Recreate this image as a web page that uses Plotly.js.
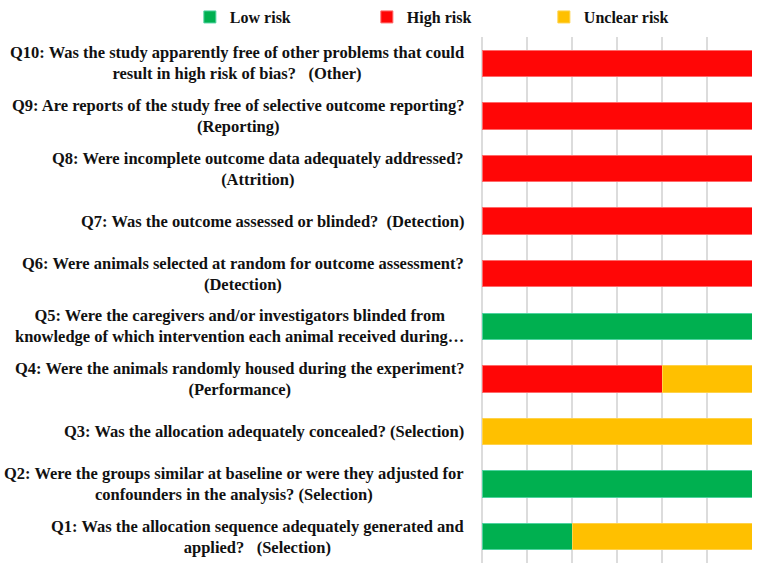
<!DOCTYPE html>
<html>
<head>
<meta charset="utf-8">
<script src="https://cdn.plot.ly/plotly-3.0.1.min.js"></script>
<style>html,body{margin:0;padding:0;background:#fff;}#chart{width:760px;height:572px;}</style>
</head>
<body>
<div id="chart"></div>
<script>
var questions = ["Q1","Q2","Q3","Q4","Q5","Q6","Q7","Q8","Q9","Q10"];
var labels = [
  "Q1: Was the allocation sequence adequately generated and<br>applied?\u00a0\u00a0\u00a0(Selection)",
  "Q2: Were the groups similar at baseline or were they adjusted for<br>confounders in the analysis? (Selection)",
  "Q3: Was the allocation adequately concealed? (Selection)",
  "Q4: Were the animals randomly housed during the experiment?<br>(Performance)",
  "Q5: Were the caregivers and/or investigators blinded from<br>knowledge of which intervention each animal received during\u2026",
  "Q6: Were animals selected at random for outcome assessment?<br>(Detection)",
  "Q7: Was the outcome assessed or blinded?\u00a0\u00a0(Detection)",
  "Q8: Were incomplete outcome data adequately addressed?<br>(Attrition)",
  "Q9: Are reports of the study free of selective outcome reporting?<br>(Reporting)",
  "Q10: Was the study apparently free of other problems that could<br>result in high risk of bias?\u00a0\u00a0\u00a0(Other)"
];
var lowRisk     = [2, 6, 0, 0, 6, 0, 0, 0, 0, 0];
var highRisk    = [0, 0, 0, 4, 0, 6, 6, 6, 6, 6];
var unclearRisk = [4, 0, 6, 2, 0, 0, 0, 0, 0, 0];
var seriesNames = ["Low risk", "High risk", "Unclear risk"];

var font = "'Liberation Serif', 'Times New Roman', serif";
function bar(name, vals, color, edge) {
  return {type: "bar", orientation: "h", name: name, x: vals, y: questions,
    marker: {color: color, line: {color: edge, width: 1}}, hoverinfo: "x+y+name"};
}
var data = [
  bar(seriesNames[0], lowRisk, "#00B050", "#4fd3a0"),
  bar(seriesNames[1], highRisk, "#FF0606", "#ff6a6a"),
  bar(seriesNames[2], unclearRisk, "#FFC000", "#ffd24a")
];
var annotations = questions.map(function(q, i) {
  return {xref: "paper", yref: "y", x: 0, y: q, text: labels[i], showarrow: false,
    xanchor: "right", yanchor: "middle", align: "center", xshift: -16,
    font: {family: font, size: 16.5, color: "#111", weight: "bold"}};
});
var layout = {
  width: 760, height: 572,
  margin: {l: 482, r: 8, t: 37, b: 9, autoexpand: false},
  paper_bgcolor: "#fff", plot_bgcolor: "#fff",
  barmode: "stack", bargap: 0.5,
  showlegend: true,
  legend: {orientation: "h", x: -1.082, xanchor: "left", y: 1.0703, yanchor: "top",
    font: {family: font, size: 16, color: "#111", weight: "bold"},
    entrywidth: 132, entrywidthmode: "pixels", itemwidth: 30, traceorder: "normal"},
  xaxis: {range: [0, 6], dtick: 1, showgrid: true, gridcolor: "#dcdcdc", gridwidth: 1.5,
    zeroline: true, zerolinecolor: "#dcdcdc", zerolinewidth: 1.5, showticklabels: false, fixedrange: true},
  yaxis: {type: "category", categoryorder: "array", categoryarray: questions, showticklabels: false,
    showgrid: false, zeroline: false, fixedrange: true},
  annotations: annotations
};
Plotly.newPlot("chart", data, layout, {displayModeBar: false, staticPlot: true});
</script>
</body>
</html>
